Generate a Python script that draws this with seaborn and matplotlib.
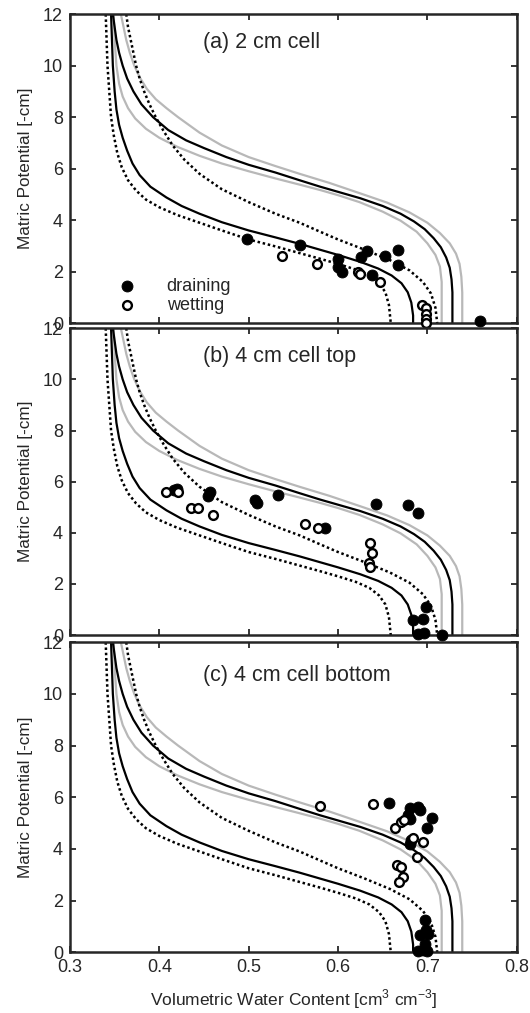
import matplotlib
matplotlib.use("Agg")
import matplotlib.pyplot as plt
import seaborn as sns

# model curves (theta vs matric potential), same in every panel
theta_gray_out = [0.357, 0.360, 0.363, 0.367, 0.372, 0.378, 0.386, 0.396, 0.408, 0.421, 0.433, 0.445, 0.470, 0.500,
                  0.530, 0.557, 0.590, 0.624, 0.655, 0.680, 0.700, 0.714, 0.725, 0.732, 0.736, 0.738, 0.739, 0.739]
h_gray_out = [12, 11.5, 11, 10.5, 10, 9.55, 9.1, 8.7, 8.35, 8.0, 7.7, 7.4, 6.9, 6.45,
              6.1, 5.8, 5.45, 5.05, 4.68, 4.3, 3.9, 3.5, 3.1, 2.7, 2.3, 1.8, 1.2, 0]
theta_gray_in = [0.349, 0.350, 0.352, 0.355, 0.359, 0.365, 0.373, 0.385, 0.400, 0.420, 0.445, 0.470, 0.500,
                 0.530, 0.557, 0.580, 0.600, 0.624, 0.650, 0.670, 0.688, 0.700, 0.709, 0.714, 0.716, 0.716]
h_gray_in = [12, 11, 10, 9.3, 8.8, 8.35, 7.95, 7.55, 7.2, 6.85, 6.5, 6.2, 5.9,
             5.62, 5.38, 5.17, 4.97, 4.7, 4.33, 3.98, 3.55, 3.1, 2.65, 2.2, 1.6, 0]
theta_solid_up = [0.348, 0.350, 0.352, 0.355, 0.359, 0.364, 0.371, 0.380, 0.393, 0.410, 0.430, 0.450, 0.475, 0.500,
                  0.530, 0.557, 0.580, 0.600, 0.625, 0.650, 0.670, 0.685, 0.697, 0.707, 0.715, 0.721, 0.725, 0.727,
                  0.728, 0.728]
h_solid_up = [12, 11.5, 11, 10.5, 10, 9.5, 9.0, 8.5, 8.0, 7.5, 7.1, 6.8, 6.45, 6.15,
              5.85, 5.55, 5.3, 5.1, 4.85, 4.55, 4.25, 3.95, 3.65, 3.3, 2.95, 2.55, 2.15, 1.7,
              1.2, 0]
theta_solid_lo = [0.346, 0.347, 0.348, 0.350, 0.352, 0.355, 0.359, 0.364, 0.370, 0.378, 0.390, 0.408, 0.425, 0.445,
                  0.470, 0.500, 0.530, 0.557, 0.580, 0.600, 0.625, 0.645, 0.660, 0.671, 0.678, 0.682, 0.684, 0.684]
h_solid_lo = [12, 11, 10, 9, 8.3, 7.7, 7.2, 6.7, 6.2, 5.75, 5.3, 4.88, 4.55, 4.25,
              3.92, 3.6, 3.33, 3.08, 2.85, 2.65, 2.38, 2.12, 1.85, 1.55, 1.2, 0.8, 0.3, 0]
theta_dot_out = [0.363, 0.365, 0.368, 0.371, 0.374, 0.378, 0.383, 0.389, 0.396, 0.405, 0.415, 0.428, 0.445,
                 0.470, 0.500, 0.530, 0.557, 0.580, 0.600, 0.630, 0.658, 0.680, 0.695, 0.704, 0.709, 0.711]
h_dot_out = [12, 11.5, 11, 10.5, 10, 9.5, 9.0, 8.5, 8.0, 7.45, 6.9, 6.35, 5.8,
             5.2, 4.7, 4.25, 3.9, 3.55, 3.25, 2.85, 2.45, 2.05, 1.6, 1.15, 0.6, 0]
theta_dot_in = [0.340, 0.341, 0.342, 0.344, 0.346, 0.349, 0.353, 0.358, 0.365, 0.374, 0.385, 0.400, 0.420,
                0.445, 0.470, 0.500, 0.530, 0.557, 0.580, 0.600, 0.620, 0.635, 0.646, 0.653, 0.657, 0.659]
h_dot_in = [12, 11, 10, 9, 8, 7.3, 6.6, 6.05, 5.55, 5.15, 4.8, 4.5, 4.2,
            3.9, 3.6, 3.25, 2.98, 2.72, 2.5, 2.3, 2.08, 1.85, 1.55, 1.2, 0.7, 0]

# measurements
a_drain_theta = [0.498, 0.557, 0.600, 0.600, 0.604, 0.626, 0.632, 0.638, 0.652, 0.667, 0.667, 0.759]
a_drain_h = [3.25, 3.05, 2.5, 2.2, 2.0, 2.55, 2.8, 1.86, 2.6, 2.85, 2.25, 0.08]
a_wet_theta = [0.537, 0.576, 0.622, 0.625, 0.647, 0.694, 0.698, 0.698, 0.698, 0.698]
a_wet_h = [2.62, 2.3, 2.0, 1.9, 1.6, 0.7, 0.6, 0.35, 0.15, 0.0]

b_drain_theta = [0.416, 0.420, 0.455, 0.457, 0.507, 0.509, 0.533, 0.585, 0.643, 0.678, 0.689, 0.699, 0.684, 0.695, 0.689, 0.696, 0.716]
b_drain_h = [5.66, 5.72, 5.45, 5.58, 5.27, 5.17, 5.47, 4.18, 5.12, 5.1, 4.76, 1.1, 0.6, 0.62, 0.05, 0.08, 0.02]
b_wet_theta = [0.407, 0.421, 0.436, 0.443, 0.460, 0.563, 0.578, 0.636, 0.638, 0.635, 0.636]
b_wet_h = [5.6, 5.6, 4.96, 4.96, 4.68, 4.33, 4.18, 3.6, 3.2, 2.82, 2.66]

c_drain_theta = [0.657, 0.680, 0.689, 0.692, 0.678, 0.681, 0.705, 0.700, 0.682, 0.681, 0.697, 0.699, 0.692, 0.701, 0.690, 0.695, 0.700, 0.697]
c_drain_h = [5.76, 5.58, 5.63, 5.5, 5.3, 5.15, 5.2, 4.8, 4.34, 4.2, 1.24, 0.86, 0.66, 0.7, 0.05, 0.1, 0.05, 0.3]
c_wet_theta = [0.580, 0.639, 0.664, 0.671, 0.674, 0.684, 0.695, 0.688, 0.666, 0.671, 0.673, 0.668]
c_wet_h = [5.65, 5.73, 4.8, 5.03, 5.1, 4.42, 4.26, 3.68, 3.37, 3.3, 2.9, 2.7]

titles = ["(a) 2 cm cell", "(b) 4 cm cell top", "(c) 4 cm cell bottom"]
x_ticks = [0.3, 0.4, 0.5, 0.6, 0.7, 0.8]
y_ticks = [0, 2, 4, 6, 8, 10, 12]

sns.set_style("ticks")
plt.rcParams['font.family'] = ['Liberation Sans', 'DejaVu Sans']
plt.rcParams['mathtext.fontset'] = 'custom'
plt.rcParams['mathtext.rm'] = 'Liberation Sans'

fig = plt.figure(figsize=(5.3, 10.13), dpi=100)
boxes = [(0.132, 0.681, 0.843, 0.305), (0.132, 0.373, 0.843, 0.303), (0.132, 0.060, 0.843, 0.306)]
panels = [(a_drain_theta, a_drain_h, a_wet_theta, a_wet_h),
          (b_drain_theta, b_drain_h, b_wet_theta, b_wet_h),
          (c_drain_theta, c_drain_h, c_wet_theta, c_wet_h)]
title_y = [0.909, 0.909, 0.894]

for i, (box, pts) in enumerate(zip(boxes, panels)):
    ax = fig.add_axes(box)
    # gray curves
    for tx, hy in [(theta_gray_out, h_gray_out), (theta_gray_in, h_gray_in)]:
        sns.lineplot(x=tx, y=hy, sort=False, estimator=None, color='#b8b8b8', lw=1.6, ax=ax)
    # black solid curves
    for tx, hy in [(theta_solid_up, h_solid_up), (theta_solid_lo, h_solid_lo)]:
        sns.lineplot(x=tx, y=hy, sort=False, estimator=None, color='black', lw=1.6, ax=ax)
    # dotted curves
    for tx, hy in [(theta_dot_out, h_dot_out), (theta_dot_in, h_dot_in)]:
        sns.lineplot(x=tx, y=hy, sort=False, estimator=None, color='black', lw=1.8,
                     linestyle=(0, (1, 1.1)), ax=ax)
    dt, dh, wt, wh = pts
    sns.scatterplot(x=dt, y=dh, color='black', edgecolor='black', s=62, ax=ax,
                    label='draining', zorder=5, clip_on=False)
    sns.scatterplot(x=wt, y=wh, facecolor='white', edgecolor='black', linewidth=1.7,
                    s=40, ax=ax, label='wetting', zorder=5, clip_on=False)

    ax.set_xlim(0.3, 0.8)
    ax.set_ylim(0, 12)
    ax.set_xticks(x_ticks)
    ax.set_yticks(y_ticks)
    ax.tick_params(direction='in', length=4, width=1.3, top=True, right=True,
                   labelsize=13, pad=5)
    for sp in ax.spines.values():
        sp.set_linewidth(1.8)
        sp.set_visible(True)
    ax.set_ylabel('Matric Potential [-cm]', fontsize=12.3, labelpad=7)
    ax.text(0.298, title_y[i], titles[i], transform=ax.transAxes, fontsize=15.5,
            va='center', ha='left')
    if i < 2:
        ax.set_xticklabels([])
        ax.set_xlabel('')
    else:
        ax.set_xticklabels(['0.3', '0.4', '0.5', '0.6', '0.7', '0.8'])
        ax.set_xlabel('Volumetric Water Content [cm$^3$ cm$^{-3}$]', fontsize=12.5, labelpad=8)
    if i == 0:
        ax.legend(loc='lower left', bbox_to_anchor=(0.087, 0.03), frameon=False,
                  fontsize=13, borderpad=0, borderaxespad=0, handletextpad=1.2,
                  labelspacing=0.1, handlelength=2.0)
    else:
        ax.get_legend().remove()

fig.savefig('out.png', dpi=100)
